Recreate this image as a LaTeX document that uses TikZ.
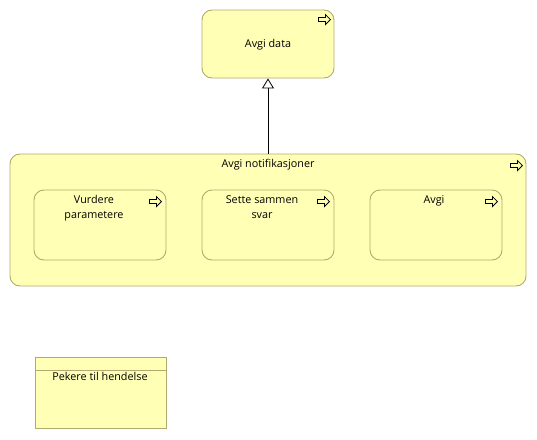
\documentclass[tikz,border=0pt]{standalone}
\usepackage{fontspec}
\setmainfont{Open Sans}
\usetikzlibrary{arrows.meta,calc}
\definecolor{fillY}{RGB}{255,255,181}
\definecolor{edgeY}{RGB}{178,170,110}
\tikzset{
  x=1pt,y=-1pt,
  rbox/.style={draw=edgeY,fill=fillY,line width=0.9pt,rounded corners=10pt,inner sep=0pt},
  pbox/.style={draw=edgeY,fill=fillY,line width=0.9pt,inner sep=0pt},
  lbl/.style={font=\fontsize{10.8}{15.5}\selectfont,align=center,inner sep=0pt,anchor=north},
  evicon/.pic={\draw[line width=0.8pt,fill=fillY] (0,-2)--(7,-2)--(7,-5)--(12,0)--(7,5)--(7,2)--(0,2)--cycle;}
}
\begin{document}
\begin{tikzpicture}
\useasboundingbox (0,0) rectangle (537,439);
% Avgi data
\node[rbox,minimum width=132pt,minimum height=68pt] (data) at (268,44) {};
\node[font=\fontsize{10.8}{15}\selectfont] (datat) at (268,45) {Avgi data};
\pic at ($(data.north east)+(-16,10)$) {evicon};
% container
\node[rbox,minimum width=516pt,minimum height=132pt] (notif) at (268,220) {};
\node[lbl] (notift) at (268,159) {Avgi notifikasjoner};
\pic at ($(notif.north east)+(-16,12)$) {evicon};
% inner
\node[rbox,minimum width=132pt,minimum height=70pt] (vur) at (100,225) {};
\node[lbl] (vurt) at (94,195) {Vurdere\\parametere};
\pic at ($(vur.north east)+(-17,12)$) {evicon};
\node[rbox,minimum width=132pt,minimum height=70pt] (set) at (268,225) {};
\node[lbl] (sett) at (262,195) {Sette sammen\\svar};
\pic at ($(set.north east)+(-17,12)$) {evicon};
\node[rbox,minimum width=132pt,minimum height=70pt] (avg) at (436,225) {};
\node[lbl] (avgt) at (434,195) {Avgi};
\pic at ($(avg.north east)+(-17,12)$) {evicon};
% specialization
\draw[line width=0.8pt,-{Triangle[open,width=12pt,length=10pt]}] (notif.north) -- (data.south);
% Pekere
\node[pbox,minimum width=131pt,minimum height=71pt] (pek) at (100.5,392.5) {};
\draw[edgeY,line width=0.9pt] ($(pek.north west)+(0,14)$) coordinate (pa) -- ($(pek.north east)+(0,14)$) coordinate (pb);
\node[lbl] (pekt) at (100,372) {Pekere til hendelse};
\end{tikzpicture}
\end{document}
